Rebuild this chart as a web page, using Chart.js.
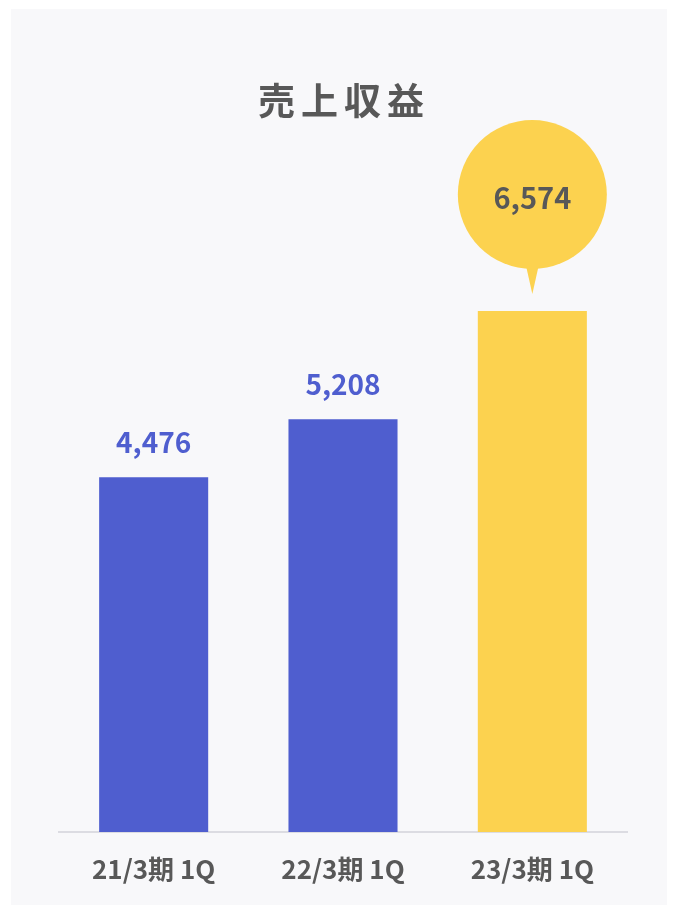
<!DOCTYPE html>
<html lang="ja">
<head>
<meta charset="utf-8">
<title>売上収益</title>
<script src="https://cdn.jsdelivr.net/npm/chart.js@4.4.1/dist/chart.umd.min.js"></script>
<style>
  html, body { margin: 0; padding: 0; background: #ffffff; }
  canvas { display: block; }
</style>
</head>
<body>
<canvas id="revenue" width="674" height="905"></canvas>
<script>
// Quarterly revenue (1Q of each fiscal year ending March)
const titleText = '売上収益';
const periods = ['21/3期 1Q', '22/3期 1Q', '23/3期 1Q'];
const revenue = [4476, 5208, 6574];
const latestIndex = 2; // the most recent quarter is shown in a callout bubble

const FONT = '"Noto Sans CJK JP", "Noto Sans", sans-serif';
const BLUE = '#4f5ecf';
const YELLOW = '#fcd24f';
const GRAY_TEXT = '#585858';
const PANEL = '#f8f8fa';

const fmt = v => v.toLocaleString('en-US');

// Light panel behind the chart plus the title
const panelPlugin = {
  id: 'panel',
  beforeDraw(chart) {
    const ctx = chart.ctx;
    ctx.save();
    ctx.fillStyle = '#ffffff';
    ctx.fillRect(0, 0, chart.width, chart.height);
    ctx.fillStyle = PANEL;
    ctx.fillRect(11, 9, 656, chart.height - 9);

    const spacing = 6;
    ctx.font = 'bold 37px ' + FONT;
    ctx.fillStyle = GRAY_TEXT;
    ctx.textAlign = 'center';
    ctx.textBaseline = 'middle';
    ctx.letterSpacing = spacing + 'px';
    ctx.fillText(titleText, 341 + spacing / 2, 101);
    ctx.restore();
  }
};

// Value labels above the bars; the latest value sits in a speech bubble
const valueLabelPlugin = {
  id: 'valueLabels',
  afterDatasetsDraw(chart) {
    const ctx = chart.ctx;
    const meta = chart.getDatasetMeta(0);
    ctx.save();
    ctx.textAlign = 'center';
    ctx.textBaseline = 'middle';
    meta.data.forEach((bar, i) => {
      const value = chart.data.datasets[0].data[i];
      if (i === latestIndex) {
        const cx = bar.x;
        const cy = bar.y - 116.5;
        const r = 74.5;
        ctx.fillStyle = YELLOW;
        ctx.beginPath();
        ctx.arc(cx, cy, r, 0, Math.PI * 2);
        ctx.fill();
        ctx.beginPath();
        ctx.moveTo(cx - 6.5, cy + r - 4);
        ctx.lineTo(cx + 6.5, cy + r - 4);
        ctx.lineTo(cx, bar.y - 17);
        ctx.closePath();
        ctx.fill();
        ctx.font = 'bold 29px ' + FONT;
        ctx.fillStyle = GRAY_TEXT;
        ctx.fillText(fmt(value), cx, cy + 3);
      } else {
        ctx.font = 'bold 28px ' + FONT;
        ctx.fillStyle = BLUE;
        ctx.fillText(fmt(value), bar.x, bar.y - 35);
      }
    });
    ctx.restore();
  }
};

new Chart(document.getElementById('revenue'), {
  type: 'bar',
  data: {
    labels: periods,
    datasets: [{
      data: revenue,
      backgroundColor: revenue.map((_, i) => i === latestIndex ? YELLOW : BLUE),
      borderWidth: 0,
      categoryPercentage: 1,
      barPercentage: 0.576
    }]
  },
  options: {
    responsive: false,
    animation: false,
    devicePixelRatio: 1,
    layout: { padding: { left: 59, right: 47, top: 198, bottom: 0 } },
    plugins: {
      legend: { display: false },
      title: { display: false },
      tooltip: { enabled: false }
    },
    scales: {
      y: { display: false, min: 0, max: 8000 },
      x: {
        grid: { display: false, drawTicks: false },
        border: { display: true, color: '#dcdce2', width: 2 },
        ticks: {
          color: GRAY_TEXT,
          padding: 22,
          font: { family: FONT, size: 26, weight: 'bold' }
        },
        afterFit(scale) { scale.height = 73; }
      }
    }
  },
  plugins: [panelPlugin, valueLabelPlugin]
});
</script>
</body>
</html>
